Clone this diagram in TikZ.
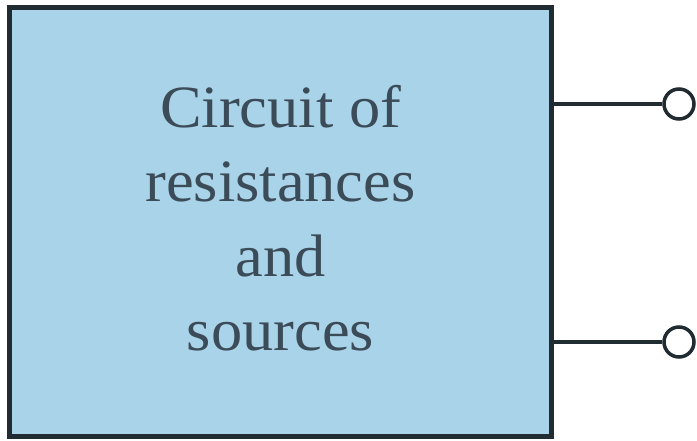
\documentclass[tikz,border=0pt]{standalone}
\usepackage{fontspec}
\setmainfont{Liberation Serif}
\newfontfamily\widefont[FakeStretch=1.04]{Liberation Serif}
\usetikzlibrary{positioning}
\definecolor{circuitFill}{RGB}{169, 211, 233}
\definecolor{circuitEdge}{RGB}{33, 43, 50}
\definecolor{circuitText}{RGB}{59, 75, 87}

\begin{document}
\begin{tikzpicture}[
  x=1pt, y=1pt,
  blockbox/.style={draw=circuitEdge, fill=circuitFill, line width=5pt,
                   minimum width=542pt, minimum height=429pt, inner sep=0pt},
  blocktext/.style={align=center, text=circuitText, inner sep=0pt,
                    font=\widefont\fontsize{60}{74.5}\selectfont},
  terminal/.style={draw=circuitEdge, fill=white, circle, line width=3.5pt,
                   minimum size=30pt, inner sep=0pt},
  wire/.style={draw=circuitEdge, line width=3.5pt}
]
\useasboundingbox (0,0) rectangle (697,440);
\node[blockbox] (circuit) at (280.5,218) {};
\node[blocktext, yshift=3.7pt] (label) at (circuit.center) {Circuit of\\resistances\\and\\sources};
\node[terminal] (termtop) at (679,336) {};
\node[terminal] (termbot) at (679,98) {};
\draw[wire] (termtop -| circuit.east) -- (termtop);
\draw[wire] (termbot -| circuit.east) -- (termbot);
\end{tikzpicture}
\end{document}
